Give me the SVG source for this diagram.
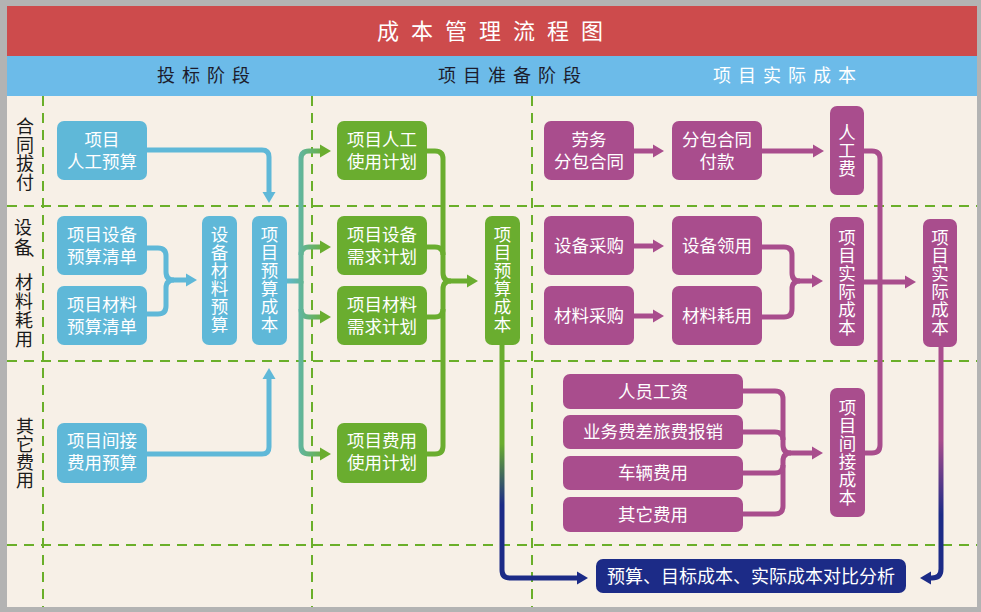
<svg xmlns="http://www.w3.org/2000/svg" width="981" height="612" viewBox="0 0 981 612">
<defs>
<style>
text{font-family:"Noto Sans CJK SC","Noto Sans",sans-serif;}
.bl{fill:#5fb8d8;}
.gr{fill:#6aad2f;}
.pu{fill:#a94d8d;}
.nv{fill:#1c2b87;}
.t{fill:#ffffff;font-size:17.5px;text-anchor:middle;}
.rl{fill:#1a1a1a;font-size:18px;text-anchor:middle;}
.dash{stroke:#6aaf2a;stroke-width:2;stroke-dasharray:10 7;fill:none;}
.c{fill:none;stroke-width:5;}
.cb{stroke:#5fb8d8;}
.cg{stroke:#6aad2f;}
.cp{stroke:#a94d8d;}
</style>
<marker id="ab" markerUnits="userSpaceOnUse" markerWidth="12" markerHeight="14" refX="0" refY="7" orient="auto"><path d="M0,0.5 L11,7 L0,13.5 z" fill="#5fb8d8"/></marker>
<marker id="ag" markerUnits="userSpaceOnUse" markerWidth="12" markerHeight="14" refX="0" refY="7" orient="auto"><path d="M0,0.5 L11,7 L0,13.5 z" fill="#6aad2f"/></marker>
<marker id="ap" markerUnits="userSpaceOnUse" markerWidth="12" markerHeight="14" refX="0" refY="7" orient="auto"><path d="M0,0.5 L11,7 L0,13.5 z" fill="#a94d8d"/></marker>
<marker id="an" markerUnits="userSpaceOnUse" markerWidth="12" markerHeight="14" refX="0" refY="7" orient="auto"><path d="M0,0.5 L11,7 L0,13.5 z" fill="#1c2b87"/></marker>
<linearGradient id="gteal" gradientUnits="userSpaceOnUse" x1="288" y1="0" x2="328" y2="0">
<stop offset="0" stop-color="#60b8c8"/><stop offset="0.35" stop-color="#62b597"/><stop offset="1" stop-color="#6aad2f"/>
</linearGradient>
<linearGradient id="gGN" gradientUnits="userSpaceOnUse" x1="0" y1="345" x2="0" y2="580">
<stop offset="0" stop-color="#6aad2f"/><stop offset="0.42" stop-color="#6aad2f"/><stop offset="0.68" stop-color="#1c2b87"/><stop offset="1" stop-color="#1c2b87"/>
</linearGradient>
<linearGradient id="gPN" gradientUnits="userSpaceOnUse" x1="0" y1="347" x2="0" y2="580">
<stop offset="0" stop-color="#a94d8d"/><stop offset="0.4" stop-color="#a94d8d"/><stop offset="0.72" stop-color="#1c2b87"/><stop offset="1" stop-color="#1c2b87"/>
</linearGradient>
</defs>

<!-- frame -->
<rect x="0" y="0" width="981" height="612" fill="#b3b3b3"/>
<rect x="7" y="6" width="970" height="601" fill="#f7f0e7"/>
<rect x="7" y="6" width="970" height="50" fill="#cd4b4c"/>
<rect x="7" y="56" width="970" height="40" fill="#6cbbe9"/>
<text x="496" y="39" fill="#ffffff" font-size="22" letter-spacing="12" text-anchor="middle">成本管理流程图</text>
<text x="207" y="82" fill="#1c1c2c" font-size="18" letter-spacing="7" text-anchor="middle">投标阶段</text>
<text x="513" y="82" fill="#1c1c2c" font-size="18" letter-spacing="7" text-anchor="middle">项目准备阶段</text>
<text x="788" y="82" fill="#ffffff" font-size="18" letter-spacing="7" text-anchor="middle">项目实际成本</text>

<!-- grid -->
<g id="grid">
<line class="dash" x1="43" y1="96" x2="43" y2="607"/>
<line class="dash" x1="312" y1="96" x2="312" y2="607"/>
<line class="dash" x1="532" y1="96" x2="532" y2="607"/>
<line class="dash" x1="7" y1="206" x2="977" y2="206"/>
<line class="dash" x1="7" y1="361" x2="977" y2="361"/>
<line class="dash" x1="7" y1="545" x2="977" y2="545"/>
</g>

<!-- row labels -->
<g id="rowlabels">
<text class="rl"><tspan x="25" y="133">合</tspan><tspan x="25" y="151.5">同</tspan><tspan x="25" y="170">拔</tspan><tspan x="25" y="188.5">付</tspan></text>
<text class="rl" font-size="17"><tspan x="23" y="234">设</tspan><tspan x="23" y="254">备</tspan><tspan x="24" y="289">材</tspan><tspan x="24" y="308">料</tspan><tspan x="24" y="327">耗</tspan><tspan x="24" y="346">用</tspan></text>
<text x="28" y="256" fill="#1a1a1a" font-size="17">、</text>
<text class="rl"><tspan x="25" y="433">其</tspan><tspan x="25" y="451">它</tspan><tspan x="25" y="469">费</tspan><tspan x="25" y="487">用</tspan></text>
</g>

<!-- connectors -->
<g id="connectors">
<path class="c cb" d="M147,150 H262 Q269,150 269,157 V192" marker-end="url(#ab)"/>
<path class="c cb" d="M147,248 H158 Q166,248 166,256 V272 Q166,280 174,280 H186" marker-end="url(#ab)"/>
<path class="c cb" d="M147,314 H158 Q166,314 166,306 V288 Q166,280 174,280"/>
<path class="c cb" d="M147,454 H262 Q269,454 269,447 V379" marker-end="url(#ab)"/>

<path class="c" stroke="url(#gteal)" d="M287,281 H301 V159 Q301,151 309,151 H320" marker-end="url(#ag)"/>
<path class="c" stroke="url(#gteal)" d="M301,281 V446 Q301,454 309,454 H320" marker-end="url(#ag)"/>
<path class="c" stroke="url(#gteal)" d="M301,255 Q301,247 309,247 H320" marker-end="url(#ag)"/>
<path class="c" stroke="url(#gteal)" d="M301,309 Q301,317 309,317 H320" marker-end="url(#ag)"/>

<path class="c cg" d="M427,151 H435 Q443,151 443,159 V273 Q443,281 451,281 H467" marker-end="url(#ag)"/>
<path class="c cg" d="M427,454 H435 Q443,454 443,446 V289 Q443,281 451,281"/>
<path class="c cg" d="M427,247 H435 Q443,247 443,255"/>
<path class="c cg" d="M427,317 H435 Q443,317 443,309"/>

<path class="c" stroke="url(#gGN)" d="M502,345 V570 Q502,578 510,578 H577" marker-end="url(#an)"/>

<path class="c cp" d="M634,151 H653" marker-end="url(#ap)"/>
<path class="c cp" d="M762,151 H813" marker-end="url(#ap)"/>
<path class="c cp" d="M634,246 H653" marker-end="url(#ap)"/>
<path class="c cp" d="M634,316 H653" marker-end="url(#ap)"/>
<path class="c cp" d="M762,247 H784 Q792,247 792,255 V273 Q792,281 800,281 H812" marker-end="url(#ap)"/>
<path class="c cp" d="M762,317 H784 Q792,317 792,309 V289 Q792,281 800,281"/>
<path class="c cp" d="M864,151 H872 Q880,151 880,159 V445 Q880,453 872,453 H864"/>
<path class="c cp" d="M864,282 H905" marker-end="url(#ap)"/>
<path class="c cp" d="M743,391 H775 Q783,391 783,399 V445 Q783,453 791,453 H812" marker-end="url(#ap)"/>
<path class="c cp" d="M743,514 H775 Q783,514 783,506 V461 Q783,453 791,453"/>
<path class="c cp" d="M743,432 H775 Q783,432 783,440"/>
<path class="c cp" d="M743,473 H775 Q783,473 783,465"/>

<path class="c" stroke="url(#gPN)" d="M941,347 V569 Q941,578 932,578 H931" marker-end="url(#an)"/>
</g>

<!-- blue nodes -->
<g id="b1"><rect class="bl" x="57" y="121" width="90" height="59" rx="7"/><text class="t" x="102" y="146">项目</text><text class="t" x="102" y="168">人工预算</text></g>
<g id="b2"><rect class="bl" x="57" y="216" width="90" height="59" rx="7"/><text class="t" x="102" y="241">项目设备</text><text class="t" x="102" y="263">预算清单</text></g>
<g id="b3"><rect class="bl" x="57" y="286" width="90" height="59" rx="7"/><text class="t" x="102" y="311">项目材料</text><text class="t" x="102" y="333">预算清单</text></g>
<g id="b4"><rect class="bl" x="202" y="216" width="35" height="129" rx="7"/><text class="t"><tspan x="219.5" y="241">设</tspan><tspan x="219.5" y="259">备</tspan><tspan x="219.5" y="277">材</tspan><tspan x="219.5" y="295">料</tspan><tspan x="219.5" y="313">预</tspan><tspan x="219.5" y="331">算</tspan></text></g>
<g id="b5"><rect class="bl" x="252" y="216" width="35" height="129" rx="7"/><text class="t"><tspan x="269.5" y="241">项</tspan><tspan x="269.5" y="259">目</tspan><tspan x="269.5" y="277">预</tspan><tspan x="269.5" y="295">算</tspan><tspan x="269.5" y="313">成</tspan><tspan x="269.5" y="331">本</tspan></text></g>
<g id="b6"><rect class="bl" x="57" y="423" width="90" height="60" rx="7"/><text class="t" x="102" y="447">项目间接</text><text class="t" x="102" y="469">费用预算</text></g>

<!-- green nodes -->
<g id="g1"><rect class="gr" x="337" y="121" width="90" height="59" rx="7"/><text class="t" x="382" y="146">项目人工</text><text class="t" x="382" y="168">使用计划</text></g>
<g id="g2"><rect class="gr" x="337" y="216" width="90" height="59" rx="7"/><text class="t" x="382" y="241">项目设备</text><text class="t" x="382" y="263">需求计划</text></g>
<g id="g3"><rect class="gr" x="337" y="286" width="90" height="59" rx="7"/><text class="t" x="382" y="311">项目材料</text><text class="t" x="382" y="333">需求计划</text></g>
<g id="g4"><rect class="gr" x="337" y="423" width="90" height="60" rx="7"/><text class="t" x="382" y="447">项目费用</text><text class="t" x="382" y="469">使用计划</text></g>
<g id="g5"><rect class="gr" x="485" y="216" width="35" height="129" rx="7"/><text class="t"><tspan x="502.5" y="241">项</tspan><tspan x="502.5" y="259">目</tspan><tspan x="502.5" y="277">预</tspan><tspan x="502.5" y="295">算</tspan><tspan x="502.5" y="313">成</tspan><tspan x="502.5" y="331">本</tspan></text></g>

<!-- purple nodes -->
<g id="p1"><rect class="pu" x="544" y="121" width="90" height="59" rx="7"/><text class="t" x="589" y="146">劳务</text><text class="t" x="589" y="168">分包合同</text></g>
<g id="p2"><rect class="pu" x="672" y="121" width="90" height="59" rx="7"/><text class="t" x="717" y="146">分包合同</text><text class="t" x="717" y="168">付款</text></g>
<g id="p3"><rect class="pu" x="830" y="106" width="34" height="89" rx="7"/><text class="t"><tspan x="847" y="139">人</tspan><tspan x="847" y="157">工</tspan><tspan x="847" y="175">费</tspan></text></g>
<g id="p4"><rect class="pu" x="544" y="216" width="90" height="59" rx="7"/><text class="t" x="589" y="252">设备采购</text></g>
<g id="p5"><rect class="pu" x="672" y="216" width="90" height="59" rx="7"/><text class="t" x="717" y="252">设备领用</text></g>
<g id="p6"><rect class="pu" x="544" y="286" width="90" height="59" rx="7"/><text class="t" x="589" y="322">材料采购</text></g>
<g id="p7"><rect class="pu" x="672" y="286" width="90" height="59" rx="7"/><text class="t" x="717" y="322">材料耗用</text></g>
<g id="p8"><rect class="pu" x="830" y="217" width="34" height="129" rx="7"/><text class="t"><tspan x="847" y="244">项</tspan><tspan x="847" y="262">目</tspan><tspan x="847" y="280">实</tspan><tspan x="847" y="298">际</tspan><tspan x="847" y="316">成</tspan><tspan x="847" y="334">本</tspan></text></g>
<g id="p9"><rect class="pu" x="923" y="219" width="34" height="128" rx="7"/><text class="t"><tspan x="940" y="244">项</tspan><tspan x="940" y="262">目</tspan><tspan x="940" y="280">实</tspan><tspan x="940" y="298">际</tspan><tspan x="940" y="316">成</tspan><tspan x="940" y="334">本</tspan></text></g>
<g id="p10"><rect class="pu" x="563" y="374" width="180" height="35" rx="7"/><text class="t" x="653" y="398">人员工资</text></g>
<g id="p11"><rect class="pu" x="563" y="415" width="180" height="34" rx="7"/><text class="t" x="653" y="438">业务费差旅费报销</text></g>
<g id="p12"><rect class="pu" x="563" y="456" width="180" height="34" rx="7"/><text class="t" x="653" y="479">车辆费用</text></g>
<g id="p13"><rect class="pu" x="563" y="497" width="180" height="35" rx="7"/><text class="t" x="653" y="521">其它费用</text></g>
<g id="p14"><rect class="pu" x="830" y="388" width="35" height="129" rx="7"/><text class="t"><tspan x="847.5" y="414">项</tspan><tspan x="847.5" y="432">目</tspan><tspan x="847.5" y="450">间</tspan><tspan x="847.5" y="468">接</tspan><tspan x="847.5" y="486">成</tspan><tspan x="847.5" y="504">本</tspan></text></g>

<!-- navy node -->
<g id="n1"><rect class="nv" x="596" y="559" width="310" height="34" rx="7"/><text x="751" y="582.5" fill="#ffffff" font-size="18" text-anchor="middle">预算、目标成本、实际成本对比分析</text></g>
</svg>
